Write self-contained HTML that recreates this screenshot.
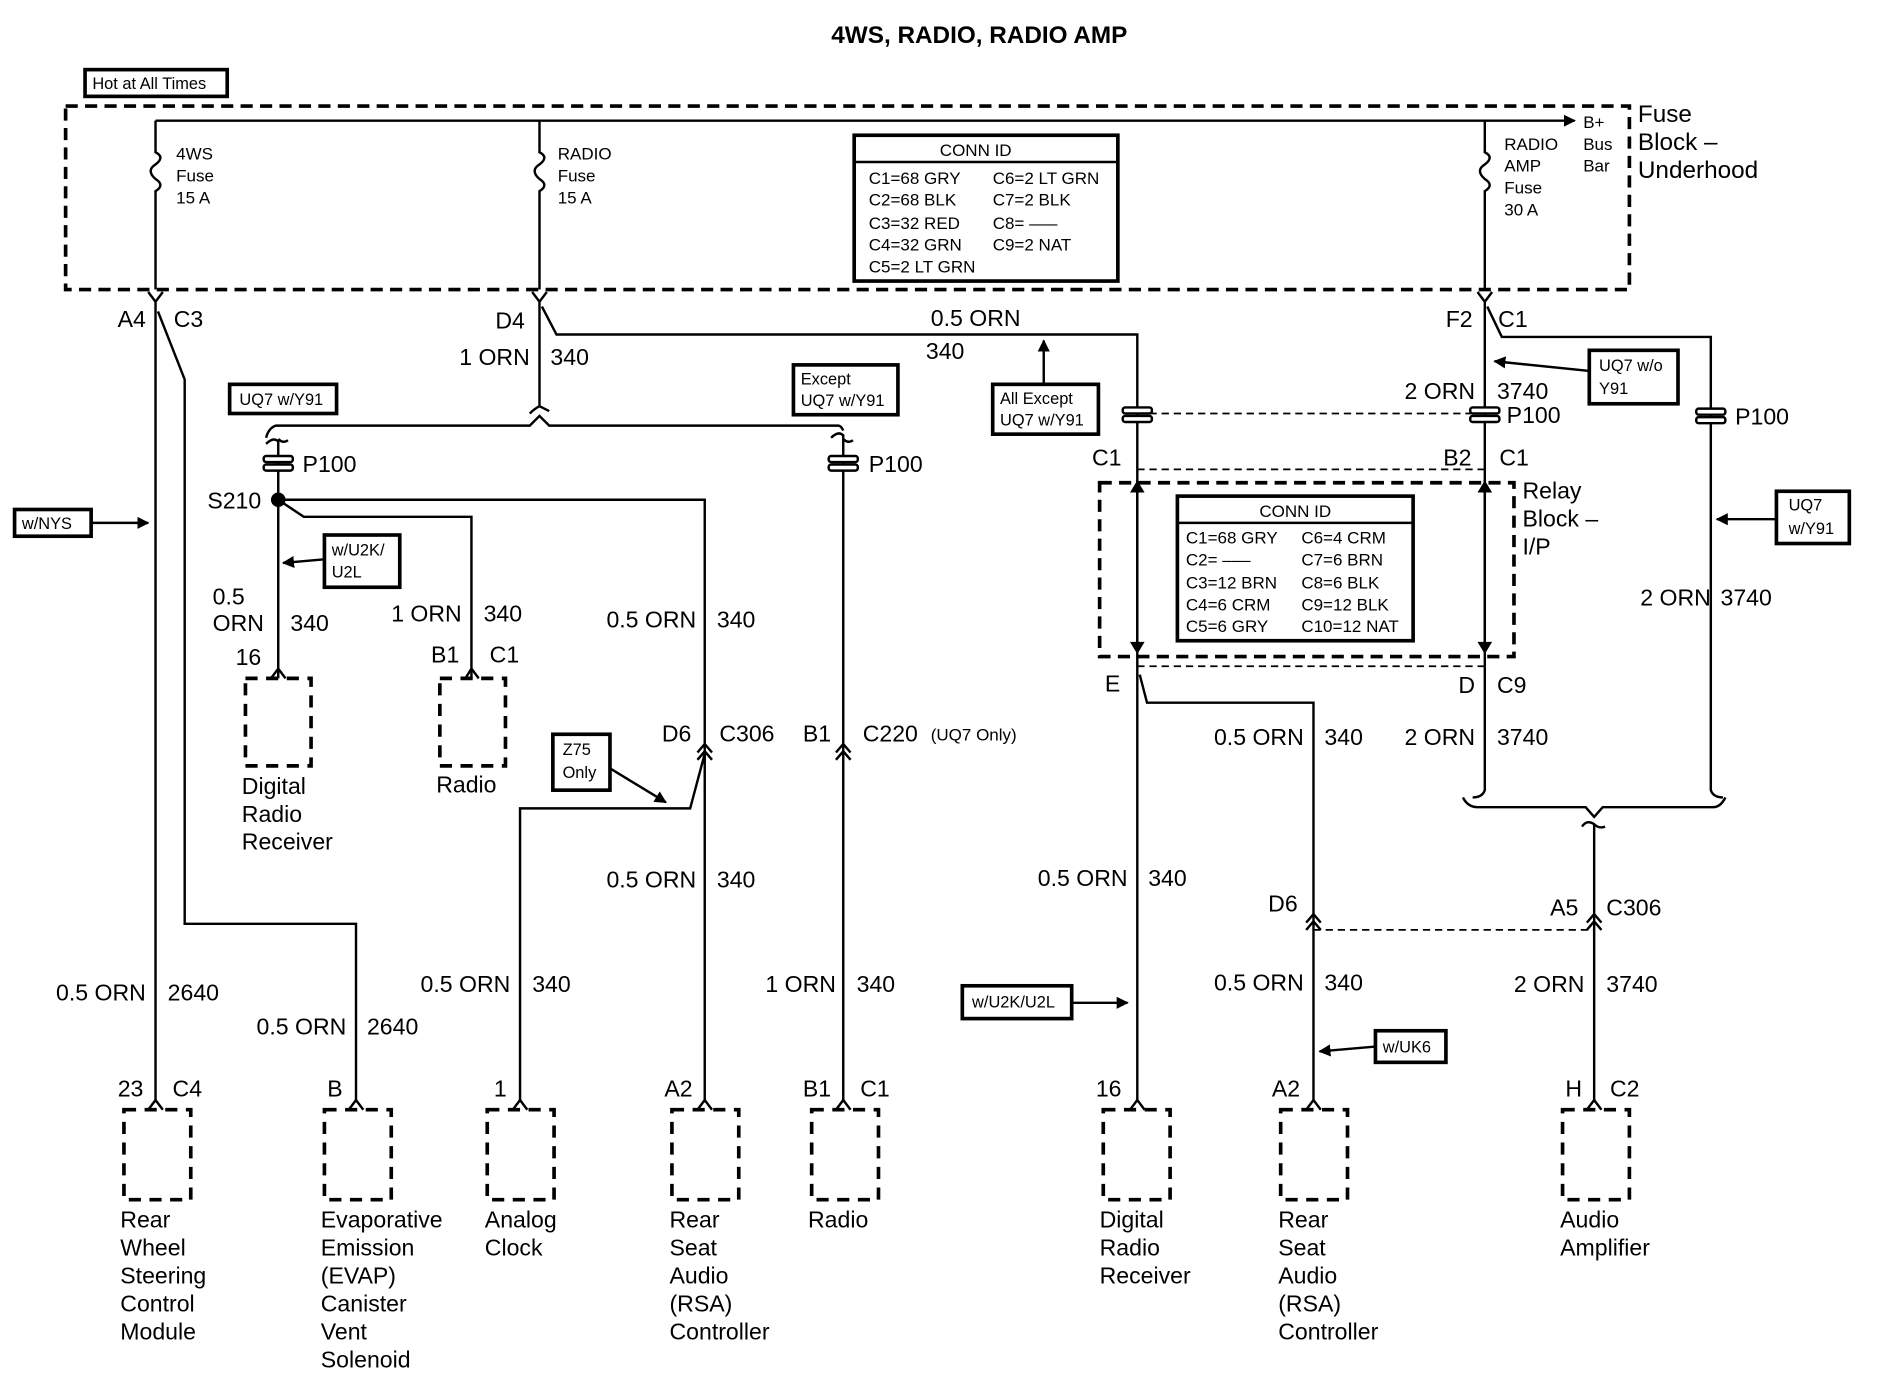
<!DOCTYPE html>
<html><head><meta charset="utf-8"><style>
html,body{margin:0;padding:0;background:#fff;width:1904px;height:1392px;overflow:hidden}
svg{display:block}
text{font-family:"Liberation Sans",Arial,sans-serif;fill:#000}
.t{font-size:19px}
.s{font-size:14px}
.b{font-size:13.5px}
</style></head><body>
<svg width="1904" height="1392" viewBox="0 0 1567 1145" xmlns="http://www.w3.org/2000/svg">
<defs>
<marker id="ar" markerWidth="10" markerHeight="10" refX="9" refY="5" orient="auto" markerUnits="userSpaceOnUse"><path d="M0,0 L10,5 L0,10 z" fill="#000"/></marker>
</defs>
<g stroke="#000" stroke-width="2" fill="none">
<rect x="54" y="87" width="1287" height="151" stroke-width="3" stroke-dasharray="10,6"/>
<line x1="128" y1="99" x2="1296" y2="99" marker-end="url(#ar)"/>
<path d="M128,99 V125 q8,4 0,10 q-8,5 0,12 q8,5 0,10 V238"/>
<path d="M444,99 V125 q8,4 0,10 q-8,5 0,12 q8,5 0,10 V238"/>
<path d="M1222,99 V125 q8,4 0,10 q-8,5 0,12 q8,5 0,10 V238"/>
<path d="M122,240 l6,8 l6,-8 M128,248 V907"/>
<path d="M130,256 L152,312 V760 H293 V907"/>
<path d="M438,240 l6,8 l6,-8 M444,248 V334 q-4,2 -8,6 M444,334 q4,2 8,4"/>
<path d="M446,252 L458,275 H936 V905"/>
<path d="M1216,240 l6,8 l6,-8 M1222,248 V548"/>
<path d="M1224,252 L1236,277 H1408 V650 q2,6 10,6"/>
<path d="M219,360 q2,-8 8,-10 H436 l8,-8 l8,8 H690 q2,0 4,4"/>
<path d="M219,365 q6,-6 10,-2 V558 M229,361 q4,4 8,1"/>
<path d="M684,360 q6,-6 10,-2 V907 M694,361 q4,4 8,1"/>
<path d="M229,411 H580 V907"/>
<path d="M229,411 L250,425 H388 V558"/>
<path d="M580,620 L568,665 H428 V907"/>
<path d="M936,395 V536 M1222,395 V536"/>
<path d="M938,555 L944,578 H1081 V907"/>
<path d="M1222,548 V650 q-2,6 -10,6"/>
<path d="M1204,656 q4,8 12,8 H1305 l7,8 l7,-8 H1410 q6,0 10,-8"/>
<path d="M1302,680 q4,-6 10,-2 V907 M1312,678 q4,4 9,2"/>
</g>
<g stroke="#000" stroke-width="1.5" stroke-dasharray="6,4" fill="none">
<line x1="936" y1="340" x2="1222" y2="340"/>
<line x1="936" y1="386" x2="1222" y2="386"/>
<line x1="936" y1="548" x2="1222" y2="548"/>
<line x1="1081" y1="765" x2="1312" y2="765"/>
</g>
<rect x="905" y="397" width="341" height="143" stroke="#000" stroke-width="3" stroke-dasharray="10,6" fill="none"/>
<g fill="#000">
<path d="M930,405 l6,-10 l6,10z M930,528 l6,10 l6,-10z M1216,405 l6,-10 l6,10z M1216,528 l6,10 l6,-10z"/>
</g>
<g stroke="#000" stroke-width="2" fill="#fff">
<rect x="217" y="375" width="24" height="5" rx="2"/><rect x="217" y="382" width="24" height="5" rx="2"/>
<rect x="682" y="375" width="24" height="5" rx="2"/><rect x="682" y="382" width="24" height="5" rx="2"/>
<rect x="924" y="335" width="24" height="5" rx="2"/><rect x="924" y="342" width="24" height="5" rx="2"/>
<rect x="1210" y="335" width="24" height="5" rx="2"/><rect x="1210" y="342" width="24" height="5" rx="2"/>
<rect x="1396" y="336" width="24" height="5" rx="2"/><rect x="1396" y="343" width="24" height="5" rx="2"/>
</g>
<circle cx="229" cy="411" r="6" fill="#000"/>
<g stroke="#000" stroke-width="2" fill="none">
<path d="M574,619 l6,-7 l6,7 M574,625 l6,-7 l6,7"/>
<path d="M688,619 l6,-7 l6,7 M688,625 l6,-7 l6,7"/>
<path d="M1075,759 l6,-7 l6,7 M1075,765 l6,-7 l6,7"/>
<path d="M1306,759 l6,-7 l6,7 M1306,765 l6,-7 l6,7"/>
<path d="M223,558 l6,-8 l6,8 M383,558 l5,-8 l6,8"/>
<path d="M122,913 l6,-8 l6,8 M287,913 l6,-8 l6,8 M422,913 l6,-8 l6,8 M574,913 l6,-8 l6,8 M688,913 l6,-8 l6,8 M930,913 l6,-8 l6,8 M1075,913 l6,-8 l6,8 M1306,913 l6,-8 l6,8"/>
</g>
<g stroke="#000" stroke-width="3" stroke-dasharray="10,7" fill="none">
<rect x="202" y="558" width="54" height="72"/><rect x="362" y="558" width="54" height="72"/>
<rect x="102" y="913" width="55" height="74"/><rect x="267" y="913" width="55" height="74"/>
<rect x="401" y="913" width="55" height="74"/><rect x="553" y="913" width="55" height="74"/>
<rect x="668" y="913" width="55" height="74"/><rect x="908" y="913" width="55" height="74"/>
<rect x="1054" y="913" width="55" height="74"/><rect x="1286" y="913" width="55" height="74"/>
</g>
<g stroke="#000" stroke-width="3" fill="#fff">
<rect x="70" y="57" width="117" height="22"/>
<rect x="703" y="111" width="217" height="120"/>
<rect x="969" y="408" width="194" height="119"/>
<rect x="189" y="316" width="88" height="24"/>
<rect x="653" y="300" width="86" height="41"/>
<rect x="817" y="316" width="87" height="41"/>
<rect x="1308" y="288" width="73" height="44"/>
<rect x="1462" y="404" width="60" height="43"/>
<rect x="12" y="419" width="63" height="22"/>
<rect x="267" y="440" width="62" height="43"/>
<rect x="455" y="604" width="47" height="46"/>
<rect x="792" y="811" width="90" height="27"/>
<rect x="1132" y="848" width="58" height="26"/>
</g>
<g stroke="#000" stroke-width="2">
<line x1="703" y1="133" x2="920" y2="133"/>
<line x1="969" y1="430" x2="1163" y2="430"/>
</g>
<g stroke="#000" stroke-width="2" fill="none" marker-end="url(#ar)">
<line x1="75" y1="430" x2="122" y2="430"/>
<line x1="267" y1="460" x2="233" y2="463"/>
<line x1="502" y1="632" x2="548" y2="660"/>
<line x1="859" y1="316" x2="859" y2="280"/>
<line x1="1308" y1="305" x2="1230" y2="297"/>
<line x1="1462" y1="427" x2="1413" y2="427"/>
<line x1="882" y1="825" x2="928" y2="825"/>
<line x1="1132" y1="861" x2="1086" y2="865"/>
</g>
<text x="806" y="35" text-anchor="middle" style="font-size:20px;font-weight:bold">4WS, RADIO, RADIO AMP</text>
<text x="76" y="73" class="b">Hot at All Times</text>
<text x="145" y="131" class="s">4WS</text><text x="145" y="149" class="s">Fuse</text><text x="145" y="167" class="s">15 A</text>
<text x="459" y="131" class="s">RADIO</text><text x="459" y="149" class="s">Fuse</text><text x="459" y="167" class="s">15 A</text>
<text x="1238" y="123" class="s">RADIO</text><text x="1238" y="141" class="s">AMP</text><text x="1238" y="159" class="s">Fuse</text><text x="1238" y="177" class="s">30 A</text>
<text x="1303" y="105" class="s">B+</text><text x="1303" y="123" class="s">Bus</text><text x="1303" y="141" class="s">Bar</text>
<text x="1348" y="100" style="font-size:20px">Fuse</text><text x="1348" y="123" style="font-size:20px">Block –</text><text x="1348" y="146" style="font-size:20px">Underhood</text>
<text x="803" y="128" class="s" text-anchor="middle">CONN ID</text>
<text x="715" y="151" class="s">C1=68 GRY</text><text x="817" y="151" class="s">C6=2 LT GRN</text>
<text x="715" y="169" class="s">C2=68 BLK</text><text x="817" y="169" class="s">C7=2 BLK</text>
<text x="715" y="188" class="s">C3=32 RED</text><text x="817" y="188" class="s">C8= –––</text>
<text x="715" y="206" class="s">C4=32 GRN</text><text x="817" y="206" class="s">C9=2 NAT</text>
<text x="715" y="224" class="s">C5=2 LT GRN</text>
<text x="1066" y="425" class="s" text-anchor="middle">CONN ID</text>
<text x="976" y="447" class="s">C1=68 GRY</text><text x="1071" y="447" class="s">C6=4 CRM</text>
<text x="976" y="465" class="s">C2= –––</text><text x="1071" y="465" class="s">C7=6 BRN</text>
<text x="976" y="484" class="s">C3=12 BRN</text><text x="1071" y="484" class="s">C8=6 BLK</text>
<text x="976" y="502" class="s">C4=6 CRM</text><text x="1071" y="502" class="s">C9=12 BLK</text>
<text x="976" y="520" class="s">C5=6 GRY</text><text x="1071" y="520" class="s">C10=12 NAT</text>
<text x="197" y="333" class="b">UQ7 w/Y91</text>
<text x="659" y="316" class="b">Except</text><text x="659" y="334" class="b">UQ7 w/Y91</text>
<text x="823" y="332" class="b">All Except</text><text x="823" y="350" class="b">UQ7 w/Y91</text>
<text x="1316" y="305" class="b">UQ7 w/o</text><text x="1316" y="324" class="b">Y91</text>
<text x="1472" y="420" class="b">UQ7</text><text x="1472" y="439" class="b">w/Y91</text>
<text x="18" y="435" class="b">w/NYS</text>
<text x="273" y="457" class="b">w/U2K/</text><text x="273" y="475" class="b">U2L</text>
<text x="463" y="621" class="b">Z75</text><text x="463" y="640" class="b">Only</text>
<text x="800" y="829" class="b">w/U2K/U2L</text>
<text x="1138" y="866" class="b">w/UK6</text>
<g>
<text x="120" y="269" text-anchor="end" class="t">A4</text><text x="143" y="269" class="t">C3</text>
<text x="432" y="270" text-anchor="end" class="t">D4</text>
<text x="1212" y="269" text-anchor="end" class="t">F2</text><text x="1233" y="269" class="t">C1</text>
<text x="436" y="300" text-anchor="end" class="t">1 ORN</text><text x="453" y="300" class="t">340</text>
<text x="803" y="268" text-anchor="middle" class="t">0.5 ORN</text><text x="762" y="295" class="t">340</text>
<text x="1214" y="328" text-anchor="end" class="t">2 ORN</text><text x="1232" y="328" class="t">3740</text>
<text x="249" y="388" class="t">P100</text><text x="715" y="388" class="t">P100</text>
<text x="1240" y="348" class="t">P100</text><text x="1428" y="349" class="t">P100</text>
<text x="215" y="418" text-anchor="end" class="t">S210</text>
<text x="923" y="383" text-anchor="end" class="t">C1</text>
<text x="1211" y="383" text-anchor="end" class="t">B2</text><text x="1234" y="383" class="t">C1</text>
<text x="1253" y="410" class="t">Relay</text><text x="1253" y="433" class="t">Block –</text><text x="1253" y="456" class="t">I/P</text>
<text x="175" y="497" class="t">0.5</text><text x="175" y="519" class="t">ORN</text><text x="239" y="519" class="t">340</text>
<text x="380" y="511" text-anchor="end" class="t">1 ORN</text><text x="398" y="511" class="t">340</text>
<text x="573" y="516" text-anchor="end" class="t">0.5 ORN</text><text x="590" y="516" class="t">340</text>
<text x="1408" y="498" text-anchor="end" class="t">2 ORN</text><text x="1416" y="498" class="t">3740</text>
<text x="215" y="547" text-anchor="end" class="t">16</text>
<text x="378" y="545" text-anchor="end" class="t">B1</text><text x="403" y="545" class="t">C1</text>
<text x="199" y="653" class="t">Digital</text><text x="199" y="676" class="t">Radio</text><text x="199" y="699" class="t">Receiver</text>
<text x="359" y="652" class="t">Radio</text>
<text x="922" y="569" text-anchor="end" class="t">E</text>
<text x="1214" y="570" text-anchor="end" class="t">D</text><text x="1232" y="570" class="t">C9</text>
<text x="569" y="610" text-anchor="end" class="t">D6</text><text x="592" y="610" class="t">C306</text>
<text x="684" y="610" text-anchor="end" class="t">B1</text><text x="710" y="610" class="t">C220</text><text x="766" y="609" class="s">(UQ7 Only)</text>
<text x="1073" y="613" text-anchor="end" class="t">0.5 ORN</text><text x="1090" y="613" class="t">340</text>
<text x="1214" y="613" text-anchor="end" class="t">2 ORN</text><text x="1232" y="613" class="t">3740</text>
<text x="573" y="730" text-anchor="end" class="t">0.5 ORN</text><text x="590" y="730" class="t">340</text>
<text x="928" y="729" text-anchor="end" class="t">0.5 ORN</text><text x="945" y="729" class="t">340</text>
<text x="1068" y="750" text-anchor="end" class="t">D6</text>
<text x="1299" y="753" text-anchor="end" class="t">A5</text><text x="1322" y="753" class="t">C306</text>
<text x="120" y="823" text-anchor="end" class="t">0.5 ORN</text><text x="138" y="823" class="t">2640</text>
<text x="285" y="851" text-anchor="end" class="t">0.5 ORN</text><text x="302" y="851" class="t">2640</text>
<text x="420" y="816" text-anchor="end" class="t">0.5 ORN</text><text x="438" y="816" class="t">340</text>
<text x="688" y="816" text-anchor="end" class="t">1 ORN</text><text x="705" y="816" class="t">340</text>
<text x="1073" y="815" text-anchor="end" class="t">0.5 ORN</text><text x="1090" y="815" class="t">340</text>
<text x="1304" y="816" text-anchor="end" class="t">2 ORN</text><text x="1322" y="816" class="t">3740</text>
<text x="118" y="902" text-anchor="end" class="t">23</text><text x="142" y="902" class="t">C4</text>
<text x="282" y="902" text-anchor="end" class="t">B</text>
<text x="417" y="902" text-anchor="end" class="t">1</text>
<text x="570" y="902" text-anchor="end" class="t">A2</text>
<text x="684" y="902" text-anchor="end" class="t">B1</text><text x="708" y="902" class="t">C1</text>
<text x="923" y="902" text-anchor="end" class="t">16</text>
<text x="1070" y="902" text-anchor="end" class="t">A2</text>
<text x="1302" y="902" text-anchor="end" class="t">H</text><text x="1325" y="902" class="t">C2</text>
<text x="99" y="1010" class="t">Rear</text><text x="99" y="1033" class="t">Wheel</text><text x="99" y="1056" class="t">Steering</text><text x="99" y="1079" class="t">Control</text><text x="99" y="1102" class="t">Module</text>
<text x="264" y="1010" class="t">Evaporative</text><text x="264" y="1033" class="t">Emission</text><text x="264" y="1056" class="t">(EVAP)</text><text x="264" y="1079" class="t">Canister</text><text x="264" y="1102" class="t">Vent</text><text x="264" y="1125" class="t">Solenoid</text>
<text x="399" y="1010" class="t">Analog</text><text x="399" y="1033" class="t">Clock</text>
<text x="551" y="1010" class="t">Rear</text><text x="551" y="1033" class="t">Seat</text><text x="551" y="1056" class="t">Audio</text><text x="551" y="1079" class="t">(RSA)</text><text x="551" y="1102" class="t">Controller</text>
<text x="665" y="1010" class="t">Radio</text>
<text x="905" y="1010" class="t">Digital</text><text x="905" y="1033" class="t">Radio</text><text x="905" y="1056" class="t">Receiver</text>
<text x="1052" y="1010" class="t">Rear</text><text x="1052" y="1033" class="t">Seat</text><text x="1052" y="1056" class="t">Audio</text><text x="1052" y="1079" class="t">(RSA)</text><text x="1052" y="1102" class="t">Controller</text>
<text x="1284" y="1010" class="t">Audio</text><text x="1284" y="1033" class="t">Amplifier</text>
</g>
</svg>
</body></html>
